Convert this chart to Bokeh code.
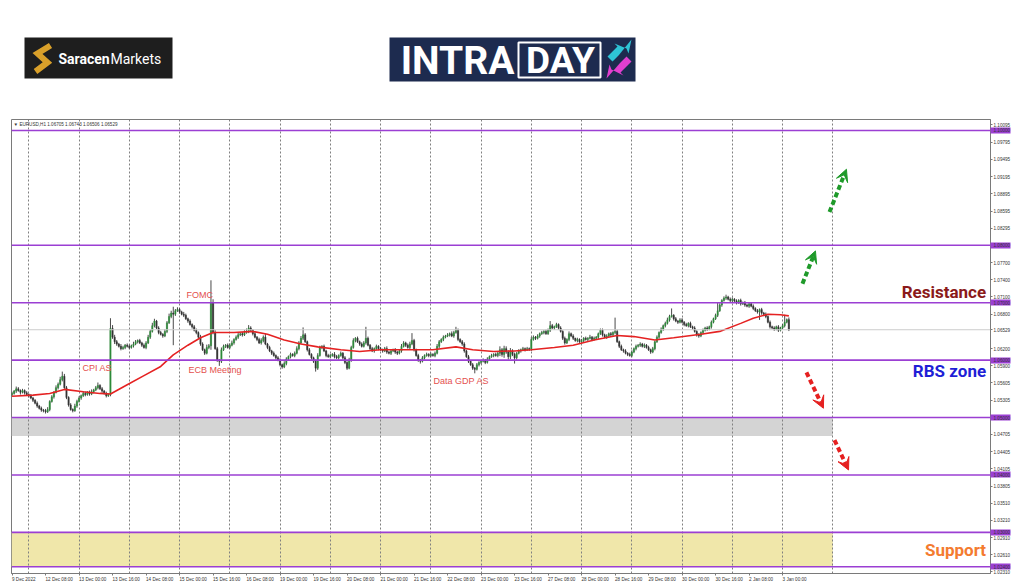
from bokeh.plotting import figure
from bokeh.layouts import column
from bokeh.models import (Range1d, FixedTicker, PrintfTickFormatter, Span, Label,
                          Arrow, VeeHead, ColumnDataSource)
from bokeh.core.properties import value
from bokeh.embed import file_html
from bokeh.resources import INLINE

# ---------------- data (EURUSD H1, bar index: 0 = 12 Dec 00:00, 24 bars per trading day) ----
first_bar = -8
first_open = 1.0540
closes = [
    1.0542, 1.0546, 1.0550, 1.0547, 1.0544, 1.0547, 1.0543, 1.0540,
    1.0538, 1.0534, 1.0530, 1.0525, 1.0520, 1.0516, 1.0513, 1.0512,
    1.0510, 1.0514, 1.0528, 1.0536, 1.0544, 1.0552, 1.0558, 1.0566,
    1.0572, 1.0552, 1.0535, 1.0522, 1.0514, 1.0512, 1.0520, 1.0528,
    1.0534, 1.0538, 1.0542, 1.0540, 1.0544, 1.0541, 1.0545, 1.0548,
    1.0552, 1.0556, 1.0550, 1.0546, 1.0542, 1.0538, 1.0540, 1.0655,
    1.0640, 1.0632, 1.0628, 1.0624, 1.0620, 1.0622, 1.0626, 1.0624,
    1.0622, 1.0625, 1.0628, 1.0632, 1.0634, 1.0630, 1.0626, 1.0622,
    1.0630, 1.0640, 1.0650, 1.0660, 1.0668, 1.0656, 1.0648, 1.0645,
    1.0642, 1.0650, 1.0665, 1.0676, 1.0682, 1.0680, 1.0686, 1.0688,
    1.0684, 1.0680, 1.0678, 1.0672, 1.0668, 1.0662, 1.0658, 1.0652,
    1.0648, 1.0640, 1.0628, 1.0618, 1.0612, 1.0622, 1.0625, 1.0700,
    1.0648, 1.0620, 1.0600, 1.0598, 1.0618, 1.0624, 1.0626, 1.0622,
    1.0626, 1.0630, 1.0636, 1.0640, 1.0644, 1.0646, 1.0644, 1.0648,
    1.0650, 1.0656, 1.0652, 1.0646, 1.0640, 1.0636, 1.0630, 1.0634,
    1.0640, 1.0628, 1.0622, 1.0616, 1.0612, 1.0608, 1.0604, 1.0600,
    1.0592, 1.0588, 1.0594, 1.0602, 1.0606, 1.0610, 1.0608, 1.0612,
    1.0620, 1.0630, 1.0638, 1.0644, 1.0632, 1.0618, 1.0610, 1.0604,
    1.0598, 1.0586, 1.0608, 1.0622, 1.0624, 1.0616, 1.0608, 1.0606,
    1.0608, 1.0610, 1.0606, 1.0604, 1.0608, 1.0612, 1.0604, 1.0596,
    1.0586, 1.0600, 1.0622, 1.0634, 1.0638, 1.0632, 1.0628, 1.0624,
    1.0630, 1.0638, 1.0626, 1.0620, 1.0616, 1.0620, 1.0624, 1.0620,
    1.0618, 1.0616, 1.0620, 1.0614, 1.0612, 1.0616, 1.0618, 1.0614,
    1.0612, 1.0616, 1.0624, 1.0630, 1.0626, 1.0622, 1.0628, 1.0634,
    1.0618, 1.0608, 1.0600, 1.0598, 1.0604, 1.0608, 1.0610, 1.0608,
    1.0610, 1.0608, 1.0612, 1.0624, 1.0632, 1.0636, 1.0640, 1.0642,
    1.0644, 1.0646, 1.0642, 1.0648, 1.0652, 1.0636, 1.0632, 1.0628,
    1.0616, 1.0606, 1.0598, 1.0592, 1.0586, 1.0584, 1.0592, 1.0596,
    1.0598, 1.0600, 1.0596, 1.0602, 1.0606, 1.0608, 1.0610, 1.0608,
    1.0612, 1.0618, 1.0610, 1.0620, 1.0614, 1.0606, 1.0616, 1.0610,
    1.0604, 1.0612, 1.0616, 1.0618, 1.0620, 1.0618, 1.0620, 1.0619,
    1.0636, 1.0640, 1.0638, 1.0642, 1.0646, 1.0648, 1.0650, 1.0646,
    1.0652, 1.0660, 1.0656, 1.0658, 1.0662, 1.0656, 1.0650, 1.0638,
    1.0630, 1.0636, 1.0646, 1.0642, 1.0638, 1.0634, 1.0636, 1.0632,
    1.0634, 1.0638, 1.0636, 1.0638, 1.0640, 1.0636, 1.0638, 1.0640,
    1.0646, 1.0652, 1.0644, 1.0640, 1.0642, 1.0646, 1.0644, 1.0648,
    1.0650, 1.0632, 1.0624, 1.0618, 1.0616, 1.0612, 1.0610, 1.0608,
    1.0614, 1.0620, 1.0624, 1.0626, 1.0628, 1.0624, 1.0626, 1.0622,
    1.0618, 1.0614, 1.0620, 1.0632, 1.0640, 1.0648, 1.0654, 1.0660,
    1.0664, 1.0670, 1.0676, 1.0678, 1.0672, 1.0668, 1.0666, 1.0670,
    1.0666, 1.0662, 1.0660, 1.0664, 1.0658, 1.0656, 1.0650, 1.0644,
    1.0642, 1.0648, 1.0652, 1.0656, 1.0654, 1.0658, 1.0666, 1.0672,
    1.0678, 1.0686, 1.0696, 1.0704, 1.0708, 1.0710, 1.0706, 1.0704,
    1.0706, 1.0703, 1.0700, 1.0704, 1.0698, 1.0700, 1.0696, 1.0694,
    1.0698, 1.0694, 1.0690, 1.0686, 1.0684, 1.0688, 1.0682, 1.0680,
    1.0676, 1.0666, 1.0658, 1.0656, 1.0654, 1.0658, 1.0652, 1.0656,
    1.0660, 1.0666, 1.06705, 1.06529,
]
upper_wick_pips = [
    3, 2, 4, 3, 2, 3, 2, 3,   2, 3, 2, 2, 3, 2, 3, 2,   3, 4, 2, 3, 2, 4, 3, 5,
    8, 4, 3, 2, 3, 2, 4, 3,   3, 2, 4, 3, 2, 3, 4, 2,   3, 5, 2, 3, 2, 3, 2, 18,
    6, 4, 3, 2, 4, 3, 2, 3,   3, 2, 4, 3, 2, 3, 2, 3,   3, 4, 3, 5, 4, 2, 3, 3,
    2, 4, 3, 5, 4, 11, 3, 4,  3, 2, 4, 3, 2, 3, 2, 3,   3, 2, 4, 3, 2, 5, 3, 39,
    6, 4, 3, 2, 4, 3, 2, 3,   3, 4, 2, 3, 4, 2, 3, 4,   5, 5, 3, 2, 3, 2, 3, 4,
    3, 6, 2, 3, 2, 3, 2, 3,   3, 2, 4, 3, 2, 3, 2, 3,   4, 3, 4, 13, 3, 2, 3, 2,
    2, 3, 4, 3, 2, 3, 2, 3,   3, 2, 4, 3, 2, 3, 2, 3,   2, 4, 3, 4, 2, 3, 2, 3,
    3, 20, 3, 2, 3, 2, 3, 2,  3, 2, 3, 4, 2, 3, 2, 3,   2, 3, 4, 3, 2, 3, 4, 13,
    3, 2, 3, 2, 3, 2, 3, 2,   3, 2, 3, 4, 3, 2, 3, 2,   3, 2, 4, 3, 6, 3, 2, 3,
    3, 2, 3, 2, 3, 2, 3, 2,   2, 3, 2, 3, 2, 3, 2, 3,   4, 6, 3, 5, 4, 3, 5, 3,
    3, 2, 3, 2, 3, 2, 3, 2,   4, 3, 2, 3, 2, 3, 2, 3,   3, 8, 3, 2, 3, 2, 3, 2,
    3, 2, 4, 2, 3, 1, 3, 2,   3, 2, 3, 2, 4, 2, 3, 2,   2, 3, 3, 2, 3, 2, 3, 2,
    24, 3, 2, 3, 2, 3, 2, 3,  3, 2, 3, 2, 3, 2, 3, 2,   3, 2, 3, 2, 3, 2, 3, 2,
    3, 4, 3, 12, 2, 3, 2, 3,  3, 2, 3, 2, 3, 2, 3, 2,   3, 2, 3, 2, 3, 2, 3, 2,
    3, 15, 3, 2, 3, 4, 2, 3,  3, 2, 3, 2, 3, 2, 3, 2,   3, 2, 3, 2, 3, 2, 3, 2,
    3, 2, 3, 2, 3, 2, 3, 2,   3, 13, 2, 3.8,
]
lower_wick_pips = [
    3, 2, 3, 2, 4, 2, 3, 2,   3, 2, 3, 2, 3, 2, 3, 3,   3, 2, 3, 2, 3, 2, 3, 2,
    3, 2, 3, 3, 2, 3, 2, 3,   2, 3, 2, 3, 2, 3, 2, 3,   2, 3, 2, 3, 2, 3, 2, 3,
    3, 4, 3, 2, 3, 2, 3, 2,   3, 2, 3, 2, 3, 2, 3, 2,   3, 2, 3, 2, 3, 2, 3, 2,
    3, 2, 3, 2, 3, 54, 3, 2,  3, 2, 3, 2, 3, 2, 3, 2,   3, 2, 3, 2, 3, 2, 3, 7,
    3, 2, 3, 8, 3, 2, 3, 2,   3, 2, 3, 2, 3, 2, 3, 2,   2, 3, 2, 3, 2, 3, 2, 3,
    3, 2, 3, 2, 3, 2, 3, 2,   3, 3, 2, 3, 2, 3, 2, 3,   2, 3, 2, 3, 2, 3, 2, 3,
    3, 6, 3, 2, 3, 2, 3, 2,   3, 2, 3, 2, 3, 2, 3, 3,   3, 2, 3, 2, 3, 2, 3, 2,
    2, 3, 2, 3, 2, 3, 2, 3,   2, 3, 2, 3, 2, 3, 2, 3,   3, 2, 3, 2, 3, 2, 3, 2,
    3, 2, 3, 4, 2, 3, 2, 3,   3, 2, 3, 2, 3, 2, 3, 2,   2, 3, 2, 3, 2, 3, 2, 3,
    3, 2, 3, 2, 3, 7, 2, 3,   3, 2, 3, 2, 3, 2, 3, 2,   3, 5, 4, 6, 3, 5, 4, 3,
    10, 3, 2, 3, 2, 3, 2, 3,  3, 2, 3, 2, 3, 2, 3, 2,   2, 3, 2, 3, 2, 3, 2, 3,
    3, 2, 3, 2, 3, 2, 3, 2,   2, 3, 2, 3, 2, 3, 2, 3,   3, 2, 3, 2, 3, 2, 3, 2,
    3, 2, 3, 2, 3, 2, 3, 2,   3, 2, 3, 2, 3, 2, 3, 2,   2, 3, 2, 3, 2, 3, 2, 3,
    3, 2, 3, 2, 3, 2, 3, 2,   2, 3, 2, 3, 2, 3, 2, 3,   3, 2, 3, 2, 3, 2, 3, 2,
    2, 3, 2, 3, 2, 3, 2, 3,   3, 2, 3, 2, 3, 2, 3, 2,   3, 2, 3, 2, 3, 14, 3, 2,
    3, 2, 3, 2, 3, 2, 3, 2,   2, 3, 2, 2.3,
]

# moving average (red line)
ma_bars = [-8, 2, 10, 17, 26, 34, 39, 47, 55, 63, 69, 76, 82, 88, 98, 107, 114, 122,
           130, 138, 149, 158, 168, 181, 193, 204, 212, 222, 232, 240, 251, 260, 270,
           281, 289, 299, 308, 321, 330, 340, 346, 353, 359, 363]
ma_values = [1.0537, 1.0539, 1.0542, 1.0549, 1.0545, 1.0542, 1.0541, 1.0557, 1.0573,
             1.0589, 1.0609, 1.0626, 1.0639, 1.0648, 1.0648, 1.0650, 1.0645, 1.0635,
             1.0628, 1.0623, 1.0618, 1.0615, 1.0618, 1.0618, 1.0618, 1.0623, 1.0618,
             1.0615, 1.0616, 1.0618, 1.0622, 1.0626, 1.0635, 1.0643, 1.0641, 1.0635,
             1.0639, 1.0645, 1.0650, 1.0664, 1.0673, 1.0680, 1.0679, 1.0677]

tick_bars = [-8, 8, 24, 40, 56, 72, 88, 104, 120, 136, 152, 168, 184, 200, 216, 232,
             248, 264, 280, 296, 312, 328, 344, 360]
tick_labels = ["9 Dec 2022", "12 Dec 08:00", "13 Dec 00:00", "13 Dec 16:00", "14 Dec 08:00",
               "15 Dec 00:00", "15 Dec 16:00", "16 Dec 08:00", "19 Dec 00:00", "19 Dec 16:00",
               "20 Dec 08:00", "21 Dec 00:00", "21 Dec 16:00", "22 Dec 08:00", "23 Dec 00:00",
               "23 Dec 16:00", "27 Dec 08:00", "28 Dec 00:00", "28 Dec 16:00", "29 Dec 08:00",
               "30 Dec 00:00", "30 Dec 16:00", "2 Jan 08:00", "3 Jan 00:00"]
day_start_bars = [0, 24, 48, 72, 96, 120, 144, 168, 192, 216, 240, 264, 288, 312, 336, 360, 384]

price_ticks = [1.10095, 1.09795, 1.09495, 1.09195, 1.08895, 1.08595, 1.08295, 1.07700,
               1.07400, 1.07100, 1.06800, 1.06200, 1.05900, 1.05605, 1.05305, 1.04705,
               1.04405, 1.04105, 1.03805, 1.03510, 1.03210, 1.02910, 1.02610, 1.02310]
levels = [1.10, 1.08, 1.07, 1.06, 1.05, 1.04, 1.03, 1.024]
last_price = 1.06529
header_text = "\u25BC EURUSD,H1  1.06705 1.06743 1.06506 1.06529"

event_names = ["FOMC", "CPI AS", "ECB Meeting", "Data GDP AS"]
event_bars = [75.3, 25.6, 76.3, 193.3]
event_prices = [1.07139, 1.05856, 1.05821, 1.05630]

zone_names = ["Resistance", "RBS zone", "Support"]
zone_prices = [1.07179, 1.05809, 1.02700]
zone_colors = ["#8b1a1a", "#1f1fd6", "#f47b2f"]

grey_zone = [1.0468, 1.0500]
support_zone = [1.0240, 1.0300]
zone_end_bar = 384

up_x0, up_y0, up_x1, up_y1 = [369.5, 382.4], [1.07330, 1.08578], [375.7, 390.5], [1.07902, 1.09324]
dn_x0, dn_y0, dn_x1, dn_y1 = [371.4, 384.8], [1.05786, 1.04607], [379.5, 391.5], [1.05162, 1.04087]

# frame geometry shared by the two stacked figures
FRAME_LEFT, FRAME_RIGHT = 11, 990
W = 1024
PURPLE = "#9b3fd3"

# ---------------- header with logos ----------------
h = figure(width=W, height=119, x_range=Range1d(FRAME_LEFT, FRAME_RIGHT), y_range=Range1d(119, 0),
           x_axis_location=None, y_axis_location=None, output_backend="svg",
           toolbar_location=None, min_border_left=FRAME_LEFT, min_border_right=W - FRAME_RIGHT,
           min_border_top=0, min_border_bottom=0)
h.grid.visible = False
h.outline_line_color = None
h.background_fill_color = "white"
h.border_fill_color = "white"

h.quad(left=[24], right=[172], top=[37], bottom=[78], fill_color="#1e1e1e", line_color=None)
h.line([50, 37, 47, 35], [45, 53, 62, 71], line_color="#d9a02a", line_width=6, line_join="miter")
h.text(x=[58], y=[58], text=["Saracen"], text_font=value("Roboto"), text_font_style="bold",
       text_font_size="14px", text_color="white", text_baseline="middle")
h.text(x=[110], y=[58], text=["Markets"], text_font=value("Roboto"),
       text_font_size="14px", text_color="white", text_baseline="middle")

h.quad(left=[389], right=[635], top=[37], bottom=[81], fill_color="#1d2b4f", line_color=None)
h.quad(left=[518], right=[600], top=[42], bottom=[77], fill_color=None,
       line_color="white", line_width=2)
h.text(x=[457], y=[60], text=["INTRA"], text_font=value("Roboto"), text_font_style="bold",
       text_font_size="39px", text_color="white", text_baseline="middle", text_align="center")
h.text(x=[560], y=[60], text=["DAY"], text_font=value("Roboto"), text_font_style="bold",
       text_font_size="37px", text_color="white", text_baseline="middle", text_align="center")
h.patch([607, 612, 622, 618, 631, 628, 626, 614, 617], [56, 61, 51, 55, 39, 53, 48, 43, 46],
        fill_color="#2ec4d6", line_color=None)
h.patch([631, 626, 616, 620, 606, 609, 611, 623, 620], [61, 56, 66, 62, 78, 64, 69, 75, 72],
        fill_color="#e23fd0", line_color=None)

# ---------------- chart ----------------
X_START, X_END = -8.26, 459.3
p = figure(width=W, height=468, x_range=Range1d(X_START, X_END),
           y_range=Range1d(1.022837, 1.101907), y_axis_location="right",
           output_backend="svg", toolbar_location=None,
           min_border_left=FRAME_LEFT, min_border_right=W - FRAME_RIGHT,
           min_border_top=0, min_border_bottom=12)
p.background_fill_color = "white"
p.border_fill_color = "white"
p.outline_line_color = "#7a7a7a"
p.ygrid.visible = False
p.xgrid.ticker = FixedTicker(ticks=day_start_bars)
p.xgrid.grid_line_color = "#808080"
p.xgrid.grid_line_dash = "2 2"
p.xgrid.grid_line_width = 1

p.xaxis.ticker = FixedTicker(ticks=tick_bars)
p.xaxis.major_label_overrides = {b: t for b, t in zip(tick_bars, tick_labels)}
# price scale: regular ticks + level prices + last price; the level marks are drawn as
# thick purple minor ticks, which gives the coloured price boxes of the terminal
p.yaxis.ticker = FixedTicker(ticks=price_ticks + levels + [last_price], minor_ticks=levels)
p.yaxis.formatter = PrintfTickFormatter(format="%.5f")
for ax in (p.xaxis, p.yaxis):
    ax.major_label_text_font = "Liberation Sans"
    ax.major_label_text_font_size = "4.6px"
    ax.major_label_text_color = "#333333"
    ax.axis_line_color = "#7a7a7a"
    ax.major_tick_line_color = "#7a7a7a"
    ax.major_tick_in = 0
    ax.major_tick_out = 2
    ax.major_label_standoff = 2
p.xaxis.minor_tick_line_color = None
p.yaxis.minor_tick_line_color = PURPLE
p.yaxis.minor_tick_line_width = 6
p.yaxis.minor_tick_in = 0
p.yaxis.minor_tick_out = 20
# labels are offset by the longest tick; pull them back next to the axis line
p.yaxis.major_label_standoff = -17
# a (practically) zero negative angle makes Bokeh left-align the date labels at their ticks
p.xaxis.major_label_orientation = -1e-6
p.xaxis.major_label_standoff = 4

# zones
p.quad(left=[X_START, X_START], right=[zone_end_bar, zone_end_bar],
       bottom=[grey_zone[0], support_zone[0]], top=[grey_zone[1], support_zone[1]],
       fill_color=["#d4d4d4", "#f0e7aa"], line_color=None, level="image")

# current price line
p.add_layout(Span(location=last_price, dimension="width", line_color="#cccccc", line_width=1))

# candles
n = len(closes)
bars = list(range(first_bar, first_bar + n))
opens = [first_open] + closes[:-1]
pip = 0.0001
highs = [max(o, c) + u * pip for o, c, u in zip(opens, closes, upper_wick_pips)]
lows = [min(o, c) - d * pip for o, c, d in zip(opens, closes, lower_wick_pips)]
cols = ["#2e8b3a" if c >= o else "#333333" for o, c in zip(opens, closes)]
src = ColumnDataSource(dict(x=bars, o=opens, c=closes, h=highs, l=lows, col=cols))
p.segment(x0="x", y0="l", x1="x", y1="h", source=src, line_color="#4a4a4a", line_width=1)
p.vbar(x="x", width=0.6, top="o", bottom="c", source=src, fill_color="col",
       line_color="col", line_width=0.5)

# moving average
p.line(ma_bars, ma_values, line_color="#e52222", line_width=1.6)

# levels
for lv in levels:
    p.add_layout(Span(location=lv, dimension="width", line_color=PURPLE, line_width=1.6))

# event annotations
p.text(x=event_bars, y=event_prices, text=event_names, text_color="#e4504e",
       text_font=value("Liberation Sans"), text_font_size="9px", text_baseline="middle")

# zone names
p.text(x=[457.2] * 3, y=zone_prices, text=zone_names, text_color=zone_colors,
       text_font=value("Roboto"), text_font_style="bold", text_font_size="17px",
       text_baseline="middle", text_align="right")

# header line of the chart
p.add_layout(Label(x=X_START + 1, y=1.10104, text=header_text, text_font="Liberation Sans",
                   text_font_size="4.6px", text_color="#333333", text_baseline="middle"))

# arrows
for x0, y0, x1, y1 in zip(up_x0, up_y0, up_x1, up_y1):
    p.add_layout(Arrow(x_start=x0, y_start=y0, x_end=x1, y_end=y1, line_color="#1f9a2a",
                       line_width=4, line_dash="5 3",
                       end=VeeHead(size=12, fill_color="#1f9a2a", line_color="#1f9a2a")))
for x0, y0, x1, y1 in zip(dn_x0, dn_y0, dn_x1, dn_y1):
    p.add_layout(Arrow(x_start=x0, y_start=y0, x_end=x1, y_end=y1, line_color="#e52020",
                       line_width=4, line_dash="5 3",
                       end=VeeHead(size=12, fill_color="#e52020", line_color="#e52020")))

layout = column(h, p)
open("out.html", "w").write(file_html(layout, INLINE))
